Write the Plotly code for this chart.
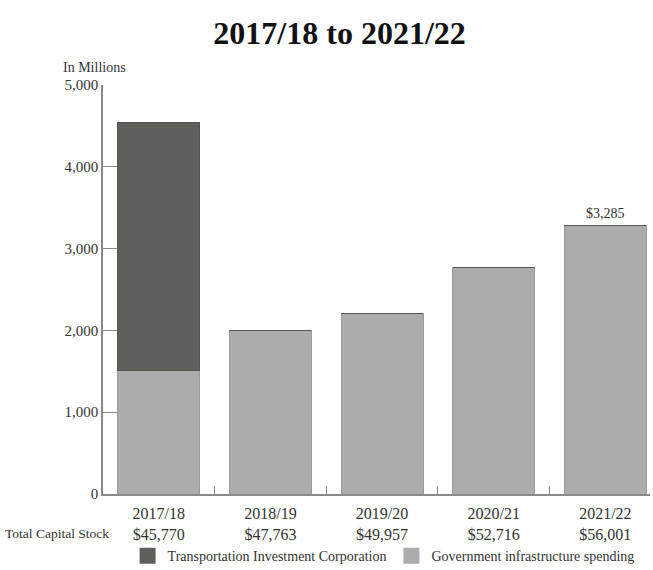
import plotly.graph_objects as go

# Fiscal years and the total capital stock shown under each year ($ millions)
years = ["2017/18", "2018/19", "2019/20", "2020/21", "2021/22"]
capital_stock = ["$45,770", "$47,763", "$49,957", "$52,716", "$56,001"]

# Annual capital spending, in $ millions
gov_spending = [1510, 1995, 2205, 2765, 3285]
tic_spending = [3030, 0, 0, 0, 0]

DARK = "#5f5f5c"
LIGHT = "#acacac"
AXIS = "#8a8a8a"
SERIF = "Liberation Serif"

x_labels = [f"{y}<br>{c}" for y, c in zip(years, capital_stock)]

fig = go.Figure()

fig.add_trace(go.Bar(
    x=x_labels, y=gov_spending, name="Government infrastructure spending",
    marker=dict(color=LIGHT, line=dict(color="#9c9c9c", width=1)),
    showlegend=False,
))
fig.add_trace(go.Bar(
    x=x_labels, y=tic_spending, name="Transportation Investment Corporation",
    marker=dict(color=DARK, line=dict(color="#555553", width=1)),
    showlegend=False,
))

# Legend swatches drawn as large square markers
fig.add_trace(go.Scatter(
    x=[None], y=[None], mode="markers", name="Transportation Investment Corporation",
    marker=dict(symbol="square", size=18, color=DARK),
))
fig.add_trace(go.Scatter(
    x=[None], y=[None], mode="markers", name="Government infrastructure spending",
    marker=dict(symbol="square", size=18, color=LIGHT),
))

# Value label above the final year's bar
last = len(years) - 1
fig.add_annotation(
    x=x_labels[last], y=gov_spending[last] + tic_spending[last],
    text=f"${gov_spending[last] + tic_spending[last]:,}",
    showarrow=False, yanchor="bottom", yshift=2,
    font=dict(family=SERIF, size=14, color="#333"),
)

fig.add_annotation(
    x=0, xref="paper", xanchor="right", xshift=8,
    y=-0.096, yref="paper", yanchor="middle",
    text="Total Capital Stock", showarrow=False,
    font=dict(family=SERIF, size=13.5, color="#333"),
)
fig.add_annotation(
    x=0, xref="paper", xanchor="left", xshift=-42,
    y=1.0, yref="paper", yanchor="bottom", yshift=8,
    text="In Millions", showarrow=False,
    font=dict(family=SERIF, size=14, color="#333"),
)

fig.update_layout(
    width=653, height=570,
    margin=dict(l=103, r=3, t=85, b=76, autoexpand=False),
    paper_bgcolor="white", plot_bgcolor="white",
    barmode="stack", bargap=0.265,
    title=dict(
        text="<b>2017/18 to 2021/22</b>", x=0.52, xanchor="center",
        y=0.942, yanchor="middle",
        font=dict(family=SERIF, size=32, color="#111"),
    ),
    font=dict(family=SERIF, size=15, color="#333"),
    xaxis=dict(
        range=[-0.5, 4.4], showgrid=False, zeroline=False,
        showline=True, linecolor=AXIS, linewidth=1.5,
        ticks="inside", tickson="boundaries", ticklen=8, tickcolor=AXIS,
        ticklabelstandoff=4,
        tickfont=dict(family=SERIF, size=16, color="#333"),
    ),
    yaxis=dict(
        range=[0, 5000], tickvals=[0, 1000, 2000, 3000, 4000, 5000],
        tickformat=",d", showgrid=False, zeroline=False,
        showline=True, linecolor=AXIS, linewidth=1.5,
        ticks="inside", ticklen=14, tickcolor=AXIS,
        tickfont=dict(family=SERIF, size=15, color="#333"),
    ),
    legend=dict(
        orientation="h", traceorder="normal",
        x=0.045, xanchor="left", y=-0.152, yanchor="middle",
        bgcolor="rgba(0,0,0,0)",
        font=dict(family=SERIF, size=14, color="#333"),
        itemwidth=30, tracegroupgap=0,
    ),
)

fig.write_html("out.html")
